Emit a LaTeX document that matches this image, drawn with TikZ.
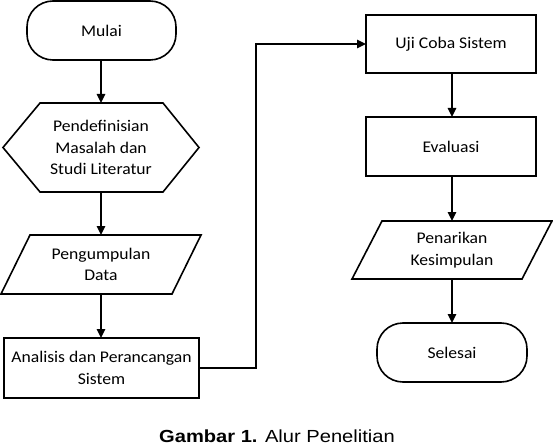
\documentclass[tikz,border=0pt]{standalone}
\usepackage{fontspec}
\setmainfont{Liberation Sans}[FakeStretch=1.15]
\newfontfamily\boxfont{Carlito}[FakeStretch=1.08]
\usetikzlibrary{arrows.meta,calc}
\begin{document}
\begin{tikzpicture}[x=1pt,y=-1pt,
  every node/.style={inner sep=0pt, outer sep=0pt, align=center,
    font=\boxfont\fontsize{16.3}{21.7}\selectfont},
  ln/.style={line width=1.6pt, line join=miter},
  term/.style={ln, draw, rounded corners=26pt},
  procbox/.style={ln, draw},
  plain/.style={},
  arr/.style={ln, -{Triangle[length=9pt,width=8.5pt]}}
]
\useasboundingbox (0,0) rectangle (553,446);
% left column
\node[term, minimum width=149, minimum height=59] (mulai) at (101.5,30.5) {Mulai};
\node[plain, minimum width=196, minimum height=89] (hex) at (101,147.5)
  {Pendefinisian\\Masalah dan\\Studi Literatur};
\draw[ln] (hex.west) -- ([xshift=37]hex.north west) -- ([xshift=-36]hex.north east)
  -- (hex.east) -- ([xshift=-36]hex.south east) -- ([xshift=37]hex.south west) -- cycle;
\node[plain, minimum width=200, minimum height=59] (pd) at (101,264.5)
  {Pengumpulan\\Data};
\draw[ln] ([xshift=29]pd.north west) -- (pd.north east) -- ([xshift=-29]pd.south east)
  -- (pd.south west) -- cycle;
\node[procbox, minimum width=195, minimum height=60] (ana) at (101.5,368)
  {Analisis dan Perancangan\\Sistem};
% right column
\node[procbox, minimum width=170, minimum height=58] (uji) at (451,44) {Uji Coba Sistem};
\node[procbox, minimum width=170, minimum height=59] (eva) at (451,146.5) {Evaluasi};
\node[plain, minimum width=200, minimum height=58] (pk) at (452,250)
  {Penarikan\\Kesimpulan};
\draw[ln] ([xshift=30]pk.north west) -- (pk.north east) -- ([xshift=-30]pk.south east)
  -- (pk.south west) -- cycle;
\node[term, minimum width=150, minimum height=59] (sel) at (452,352.5) {Selesai};
% connectors
\draw[arr] (mulai.south -| hex.north) -- (hex.north);
\draw[arr] (hex.south) -- (pd.north);
\draw[arr] (pd.south) -- (pd.south |- ana.north);
\draw[arr] (ana.east) -- ++(57,0) |- (uji.west);
\draw[arr] (uji.south -| pk.north) -- (eva.north -| pk.north);
\draw[arr] (eva.south -| pk.north) -- (pk.north);
\draw[arr] (pk.south) -- (sel.north);
% caption
\node[font=\rmfamily\fontsize{17.5}{20}\selectfont, anchor=base] (cap) at (277,442)
  {\textbf{Gambar 1.} Alur Penelitian};
\end{tikzpicture}
\end{document}
